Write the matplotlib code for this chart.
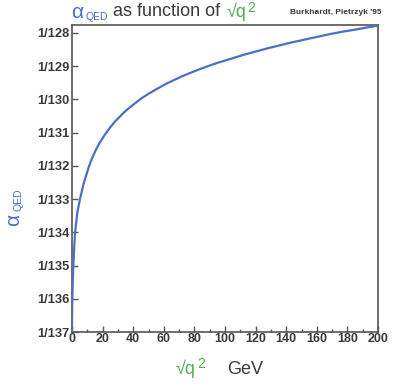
import matplotlib
matplotlib.use("Agg")
import matplotlib.pyplot as plt
from matplotlib.ticker import MultipleLocator

# data (sqrt(q^2) in GeV, 1/alpha_QED)
q_gev = [0, 0.05, 0.2, 0.5, 0.85, 1.4, 2.0, 3.5, 5.2, 7.8, 11, 13, 15.5, 18,
         21.5, 25, 28, 31, 34, 37, 40, 45, 50, 56, 62, 67, 72, 78, 84, 90,
         95, 100, 105, 112, 120, 128, 136, 143, 150, 160, 169, 177, 185, 192,
         200]
inv_alpha = [137.0, 136.5, 136.0, 135.5, 135.0, 134.5, 134.0, 133.4, 133.0,
             132.5, 132.03, 131.78, 131.53, 131.31, 131.06, 130.84, 130.67,
             130.53, 130.39, 130.27, 130.16, 129.98, 129.83, 129.67, 129.52,
             129.41, 129.30, 129.19, 129.08, 128.98, 128.90, 128.83, 128.76,
             128.66, 128.56, 128.46, 128.37, 128.29, 128.22, 128.12, 128.03,
             127.96, 127.90, 127.84, 127.78]

y_ticks = [128, 129, 130, 131, 132, 133, 134, 135, 136, 137]
y_labels = ["1/128", "1/129", "1/130", "1/131", "1/132", "1/133", "1/134",
            "1/135", "1/136", "1/137"]
x_ticks = [0, 20, 40, 60, 80, 100, 120, 140, 160, 180, 200]

BLUE = "#4a6fc7"
GREEN = "#4caf50"
DARK = "#3a3a3a"
FONT = "Liberation Sans"

W, H = 393, 387
fig = plt.figure(figsize=(W / 100, H / 100), dpi=100)
ax = fig.add_axes([72 / W, 1 - 332 / H, (378 - 72) / W, (332 - 25) / H])

ax.plot(q_gev, inv_alpha, color=BLUE, lw=1.6, solid_capstyle="round",
        solid_joinstyle="round", zorder=3)
ax.set_xlim(0, 200)
ax.set_ylim(137, 127.76)

ax.set_yticks(y_ticks)
ax.set_yticklabels(y_labels)
ax.set_xticks(x_ticks)
ax.set_xticklabels([str(v) for v in x_ticks])
ax.xaxis.set_minor_locator(MultipleLocator(10))

for s in ax.spines.values():
    s.set_color("#555555")
    s.set_linewidth(1.2)

ax.tick_params(axis="both", which="major", direction="in", length=4,
               width=1.0, color="#555555", labelcolor=DARK)
ax.tick_params(axis="x", which="minor", direction="in", length=2.5,
               width=1.0, color="#555555")
ax.tick_params(axis="x", which="major", pad=1)
ax.tick_params(axis="y", which="major", pad=2)
for lab in ax.get_yticklabels():
    lab.set_fontfamily(FONT)
    lab.set_fontsize(9.3)
    lab.set_fontweight("bold")
for lab in ax.get_xticklabels():
    lab.set_fontfamily(FONT)
    lab.set_fontsize(9)
    lab.set_fontweight("bold")

def px(x, y):
    return x / W, 1 - y / H

# title
fig.text(*px(71, 13), "α", color=BLUE, fontsize=15, family=FONT,
         ha="left", va="center")
fig.text(*px(86, 17), "QED", color=BLUE, fontsize=7.5, family=FONT,
         ha="left", va="center")
fig.text(*px(113, 12), "as function of", color=DARK, fontsize=13, family=FONT,
         ha="left", va="center")
fig.text(*px(227, 12), "√q", color=GREEN, fontsize=13, family=FONT,
         ha="left", va="center")
fig.text(*px(247, 8), "2", color=GREEN, fontsize=10, family=FONT,
         ha="left", va="center")
fig.text(*px(382, 12), "Burkhardt, Pietrzyk '95", color=DARK, fontsize=6,
         family=FONT, fontweight="bold", ha="right", va="center")

# y label
fig.text(*px(14, 226), "α", color=BLUE, fontsize=15, family=FONT,
         ha="center", va="bottom", rotation=90)
fig.text(*px(18, 211), "QED", color=BLUE, fontsize=7.5, family=FONT,
         ha="center", va="bottom", rotation=90)

# x label
fig.text(*px(176, 369), "√q", color=GREEN, fontsize=13, family=FONT,
         ha="left", va="center")
fig.text(*px(197, 364), "2", color=GREEN, fontsize=10, family=FONT,
         ha="left", va="center")
fig.text(*px(227, 369), "GeV", color=DARK, fontsize=13, family=FONT,
         ha="left", va="center")

fig.savefig("out.png", dpi=100, facecolor="white")
